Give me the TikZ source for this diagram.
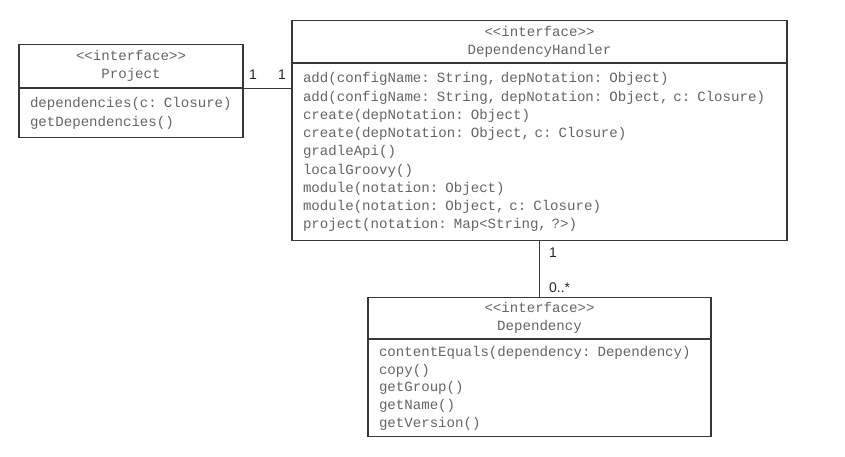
\documentclass[tikz,border=0pt]{standalone}
\usepackage{fontspec}
\setmonofont{Liberation Mono}
\setsansfont{Liberation Sans}
\usetikzlibrary{positioning}
\definecolor{umltext}{HTML}{646464}
\definecolor{umlline}{HTML}{383838}
\tikzset{
  umlfont/.style={font=\ttfamily\fontsize{14.1}{18.25}\selectfont, text=umltext},
  classhead/.style={draw=umlline, line width=1.2pt, umlfont, anchor=north,
    text width=#1-20pt, inner xsep=10pt, inner ysep=0pt, align=center},
  classbody/.style={draw=umlline, line width=1.2pt, umlfont, anchor=north,
    text width=#1-22pt, inner xsep=11pt, inner ysep=0pt, align=left},
  mult/.style={font=\sffamily\fontsize{14}{16}\selectfont, text=black!85, inner sep=3pt},
  assoc/.style={draw=umlline, line width=1.2pt}
}
\begin{document}
\begin{tikzpicture}[x=1pt,y=-1pt]
\useasboundingbox (0,0) rectangle (845,456);
% Project
\node[classhead=224pt, minimum height=43pt] (projhead) at (131,44) {<<interface>>\\Project};
\node[classbody=224pt, minimum height=49pt, below=0pt of projhead] (projbody)
  {dependencies(c: Closure)\\getDependencies()};
% DependencyHandler
\node[classhead=495pt, minimum height=42pt] (handhead) at (539.5,20) {<<interface>>\\DependencyHandler};
\node[classbody=495pt, minimum height=177pt, below=0pt of handhead] (handbody)
  {add(configName: String, depNotation: Object)\\
   add(configName: String, depNotation: Object, c: Closure)\\
   create(depNotation: Object)\\
   create(depNotation: Object, c: Closure)\\
   gradleApi()\\
   localGroovy()\\
   module(notation: Object)\\
   module(notation: Object, c: Closure)\\
   project(notation: Map<String, ?>)};
% Dependency
\node[classhead=343pt, minimum height=41pt] (dephead) at (539.5,297) {<<interface>>\\Dependency};
\node[classbody=343pt, minimum height=97pt, below=0pt of dephead,
  font=\ttfamily\fontsize{14.1}{17.75}\selectfont] (depbody)
  {contentEquals(dependency: Dependency)\\copy()\\getGroup()\\getName()\\getVersion()};
% associations
\draw[assoc] (projbody.north east) -- (projbody.north east -| handbody.west)
  node[mult, pos=0, above right, xshift=2pt, yshift=5pt] (projmult) {1}
  node[mult, pos=1, above left, xshift=-2pt, yshift=5pt] (handmult) {1};
\draw[assoc] (handbody.south) -- (dephead.north)
  node[mult, pos=0, below right, xshift=6pt, yshift=-3pt] (handmultb) {1}
  node[mult, pos=1, above right, xshift=6pt, yshift=1pt] (depmult) {0..*};
\end{tikzpicture}
\end{document}
